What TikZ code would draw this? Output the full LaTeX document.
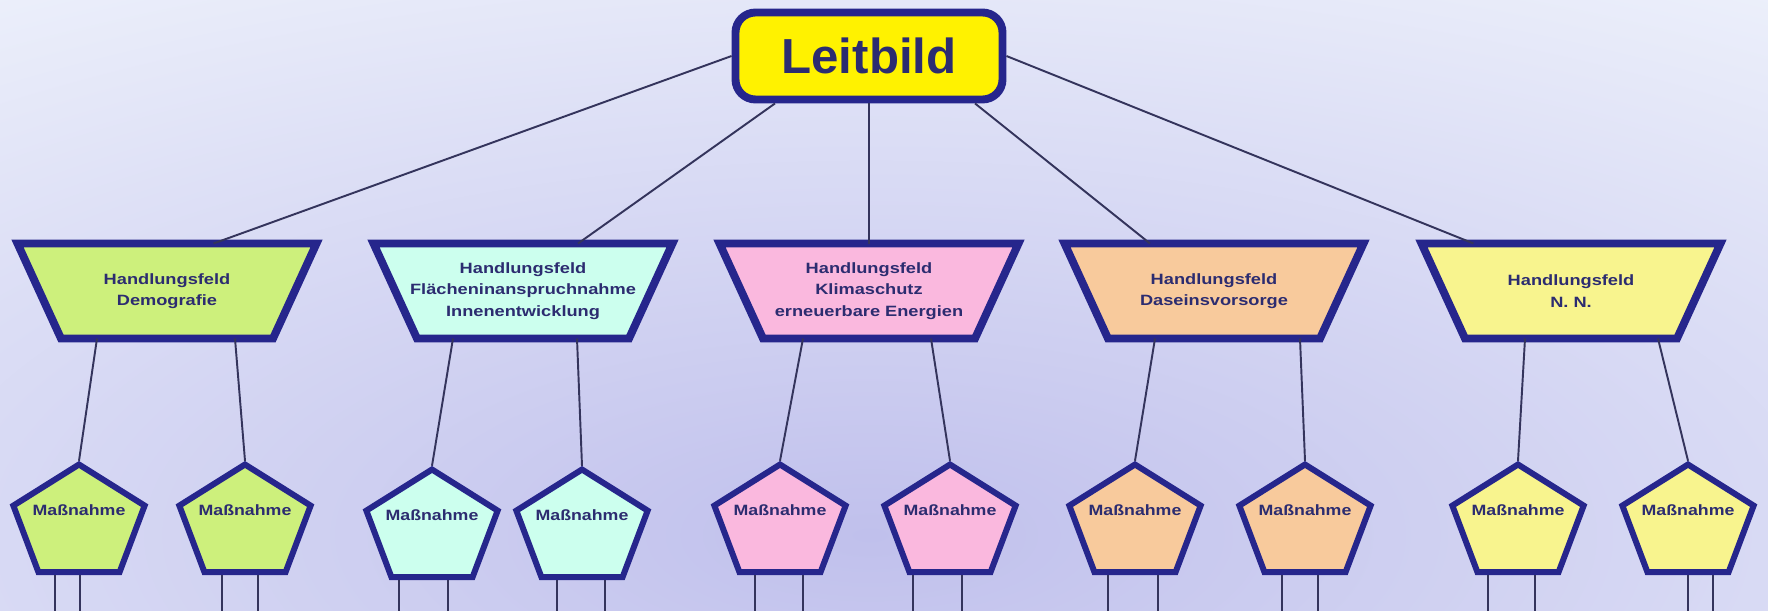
\documentclass[tikz,border=0pt]{standalone}
\usepackage{fontspec}
\setmainfont{Liberation Sans}
\usetikzlibrary{calc, shapes.geometric}

\definecolor{rahmen}{RGB}{38,38,140}
\definecolor{linie}{RGB}{52,52,92}
\definecolor{schrift}{RGB}{44,44,112}
\definecolor{gruen}{RGB}{205,240,124}
\definecolor{tuerkis}{RGB}{204,255,238}
\definecolor{rosa}{RGB}{250,184,222}
\definecolor{apricot}{RGB}{248,202,156}
\definecolor{hellgelb}{RGB}{248,244,142}
\definecolor{hgmitte}{RGB}{192,192,236}
\definecolor{hgrand}{RGB}{243,247,253}

\tikzset{
    leit/.style={draw=rahmen, line width=4.5pt, fill=yellow, rounded corners=0.4cm,
        minimum width=5.34cm, minimum height=1.74cm, text=schrift,
        font=\fontsize{28}{32}\selectfont\bfseries},
    feld/.style={draw=rahmen, line width=4.5pt},
    feldtext/.style={align=center, text=schrift, inner sep=0pt, xscale=1.22,
        font=\fontsize{8.5}{12.2}\selectfont\bfseries},
    massntext/.style={text=schrift, inner sep=0pt, xscale=1.19, yshift=0.28cm,
        font=\fontsize{8.5}{10}\selectfont\bfseries},
    massn/.style={regular polygon, regular polygon sides=5, minimum size=2.38cm,
        inner sep=0pt, draw=rahmen, line width=3.4pt, xscale=1.16,
        label={[massntext]center:Maßnahme}},
    verb/.style={draw=linie, line width=1.1pt},
}

\begin{document}
\begin{tikzpicture}

    \useasboundingbox (0,0) rectangle (35.36,12.2);
    \clip (0,0) rectangle (35.36,12.2);
    \shade[inner color=hgmitte, outer color=hgrand] (-20.6,-13.5) rectangle (55.4,16.5);

    \node[leit] (lb) at (17.38,11.08) {Leitbild};

    % Handlungsfelder
    \foreach \i/\x/\farbe in {1/3.34/gruen, 2/10.46/tuerkis, 3/17.38/rosa,
        4/24.28/apricot, 5/31.42/hellgelb}{
        \coordinate (f\i) at (\x,6.38);
        \filldraw[feld, fill=\farbe] ($(f\i)+(-2.99,0.95)$) -- ($(f\i)+(2.99,0.95)$)
            -- ($(f\i)+(2.12,-0.95)$) -- ($(f\i)+(-2.12,-0.95)$) -- cycle;
    }

    \node[feldtext] (t1) at (f1) {Handlungsfeld\\Demografie};
    \node[feldtext] (t2) at (f2) {Handlungsfeld\\Flächeninanspruchnahme\\Innenentwicklung};
    \node[feldtext] (t3) at (f3) {Handlungsfeld\\Klimaschutz\\erneuerbare Energien};
    \node[feldtext] (t4) at (f4) {Handlungsfeld\\Daseinsvorsorge};
    \node[feldtext] (t5) at (f5) {Handlungsfeld\\N. N.};

    \draw[verb] (lb.west) -- ($(f1)+(0.93,0.95)$);
    \draw[verb] ($(lb.south)+(-1.88,0)$) -- ($(f2)+(1.1,0.95)$);
    \draw[verb] (lb.south) -- ($(f3)+(0,0.95)$);
    \draw[verb] ($(lb.south)+(2.12,0)$) -- ($(f4)+(-1.28,0.95)$);
    \draw[verb] (lb.east) -- ($(f5)+(-1.95,0.95)$);

    % Massnahmen
    \node[massn, fill=gruen] (m1) at (1.58,1.72) {};
    \node[massn, fill=gruen] (m2) at (4.90,1.72) {};
    \node[massn, fill=tuerkis] (m3) at (8.64,1.62) {};
    \node[massn, fill=tuerkis] (m4) at (11.64,1.62) {};
    \node[massn, fill=rosa] (m5) at (15.60,1.72) {};
    \node[massn, fill=rosa] (m6) at (19.00,1.72) {};
    \node[massn, fill=apricot] (m7) at (22.70,1.72) {};
    \node[massn, fill=apricot] (m8) at (26.10,1.72) {};
    \node[massn, fill=hellgelb] (m9) at (30.36,1.72) {};
    \node[massn, fill=hellgelb] (m10) at (33.76,1.72) {};

    \draw[verb] ($(f1)+(-1.40,-0.95)$) -- (m1.corner 1);
    \draw[verb] ($(f1)+(1.36,-0.95)$) -- (m2.corner 1);
    \draw[verb] ($(f2)+(-1.40,-0.95)$) -- (m3.corner 1);
    \draw[verb] ($(f2)+(1.08,-0.95)$) -- (m4.corner 1);
    \draw[verb] ($(f3)+(-1.32,-0.95)$) -- (m5.corner 1);
    \draw[verb] ($(f3)+(1.24,-0.95)$) -- (m6.corner 1);
    \draw[verb] ($(f4)+(-1.18,-0.95)$) -- (m7.corner 1);
    \draw[verb] ($(f4)+(1.72,-0.95)$) -- (m8.corner 1);
    \draw[verb] ($(f5)+(-0.92,-0.95)$) -- (m9.corner 1);
    \draw[verb] ($(f5)+(1.74,-0.95)$) -- (m10.corner 1);

    % weiter nach unten
    \foreach \m/\a/\b in {1/-0.48/0.02, 2/-0.46/0.26, 3/-0.66/0.32, 4/-0.50/0.46,
        5/-0.50/0.46, 6/-0.74/0.24, 7/-0.54/0.46, 8/-0.46/0.26, 9/-0.60/0.34,
        10/0/0.50}{
        \draw[verb] ($(m\m.south)+(\a,0)$) -- ++(0,-1);
        \draw[verb] ($(m\m.south)+(\b,0)$) -- ++(0,-1);
    }
\end{tikzpicture}
\end{document}
